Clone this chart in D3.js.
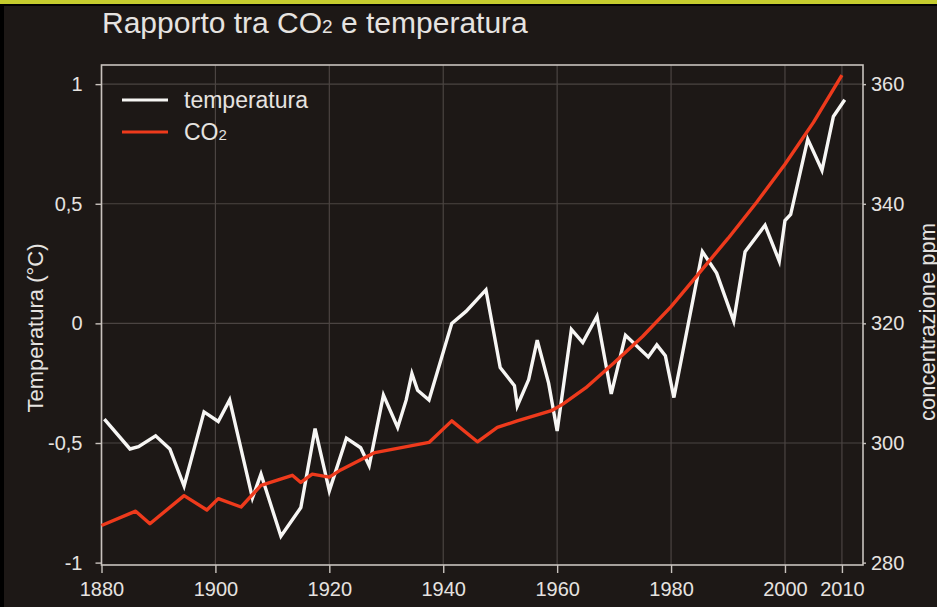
<!DOCTYPE html>
<html>
<head>
<meta charset="utf-8">
<script src="https://cdn.jsdelivr.net/npm/d3@7"></script>
<style>
  html, body { margin: 0; padding: 0; background: #000; }
  svg { display: block; font-family: "Liberation Sans", Arial, Helvetica, sans-serif; }
</style>
</head>
<body>
<svg width="937" height="607"></svg>
<script>
// temperature anomaly (white line)
const tempYears = [1880.5, 1885, 1886.5, 1889.5, 1892, 1894.5, 1898, 1900.5, 1902.5, 1906.5,
  1908, 1911.5, 1915, 1917.5, 1920, 1923, 1925.5, 1927, 1929.5, 1932,
  1933.5, 1934.5, 1935.5, 1937.5, 1941.5, 1944, 1947.5, 1950, 1952.5, 1953,
  1955, 1956.5, 1958.5, 1960, 1962.5, 1964.5, 1967, 1969.5, 1972, 1976,
  1977.5, 1979, 1980.5, 1985.5, 1988, 1991, 1993, 1996.5, 1999, 2000,
  2001, 2004, 2006.5, 2008.5, 2010.5];
const tempValues = [-0.40, -0.525, -0.515, -0.47, -0.525, -0.68, -0.37, -0.41, -0.32, -0.73,
  -0.63, -0.89, -0.77, -0.44, -0.70, -0.48, -0.52, -0.595, -0.30, -0.435,
  -0.32, -0.21, -0.28, -0.32, 0.00, 0.05, 0.14, -0.185, -0.26, -0.345,
  -0.235, -0.07, -0.25, -0.45, -0.025, -0.08, 0.03, -0.295, -0.05, -0.14,
  -0.09, -0.135, -0.31, 0.30, 0.21, 0.01, 0.30, 0.41, 0.26, 0.43,
  0.455, 0.77, 0.64, 0.865, 0.935];

// CO2 concentration ppm (red line)
const co2Years = [1880, 1886, 1888.5, 1894.5, 1898.5, 1900.5, 1904.5, 1908, 1913.5, 1915,
  1917, 1920, 1922, 1928, 1937.5, 1941.5, 1946, 1949.5, 1953, 1959,
  1961, 1965, 1970, 1975, 1980, 1985, 1990, 1995, 2000, 2005, 2010];
const co2Values = [286.2, 288.6, 286.5, 291.2, 288.8, 290.7, 289.3, 292.9, 294.6, 293.4,
  294.8, 294.3, 295.5, 298.4, 300.1, 303.7, 300.2, 302.6, 303.7, 305.4,
  306.5, 309.2, 313.4, 317.8, 322.8, 328.5, 334.2, 340.2, 346.6, 353.6, 361.5];

const yearTicks = [1880, 1900, 1920, 1940, 1960, 1980, 2000, 2010];
const tempTicks = [-1, -0.5, 0, 0.5, 1];
const tempTickLabels = ["-1", "-0,5", "0", "0,5", "1"];
const co2Ticks = [280, 300, 320, 340, 360];

const temps = tempYears.map((y, i) => ({ year: y, value: tempValues[i] }));
const co2 = co2Years.map((y, i) => ({ year: y, value: co2Values[i] }));

const svg = d3.select("svg");
const W = 937, H = 607;

// background: black edge, yellow strip on top, dark brown panel
svg.append("rect").attr("width", W).attr("height", H).attr("fill", "#000");
svg.append("rect").attr("width", W).attr("height", 4).attr("fill", "#c5cc2e");
svg.append("rect").attr("x", 4).attr("y", 6).attr("width", W - 4).attr("height", H - 6).attr("fill", "#1d1816");

const x = d3.scaleLinear().domain([1880, 2013.7]).range([101.5, 863]);
const y = d3.scaleLinear().domain([-1.01, 1.08]).range([565, 65]);
const y2 = d3.scaleLinear().domain([279.6, 363.2]).range([565, 65]);

const txt = "#e6e3e0";
const frame = "#c9c3be";
const grid = "#4b4442";

// gridlines
svg.append("g").selectAll("line").data(yearTicks).join("line")
  .attr("x1", d => x(d)).attr("x2", d => x(d))
  .attr("y1", y.range()[0]).attr("y2", y.range()[1])
  .attr("stroke", grid).attr("stroke-width", 1.2);
svg.append("g").selectAll("line").data(tempTicks.slice(1)).join("line")
  .attr("x1", x.range()[0]).attr("x2", x.range()[1])
  .attr("y1", d => y(d)).attr("y2", d => y(d))
  .attr("stroke", grid).attr("stroke-width", 1.2);

// frame
svg.append("rect")
  .attr("x", x.range()[0]).attr("y", y.range()[1])
  .attr("width", x.range()[1] - x.range()[0])
  .attr("height", y.range()[0] - y.range()[1])
  .attr("fill", "none").attr("stroke", frame).attr("stroke-width", 1.6);

// axes
const xAxis = svg.append("g")
  .attr("transform", `translate(0,${y.range()[0]})`)
  .call(d3.axisBottom(x).tickValues(yearTicks).tickFormat(d3.format("d")).tickSize(8).tickPadding(9));
const yAxis = svg.append("g")
  .attr("transform", `translate(${x.range()[0]},0)`)
  .call(d3.axisLeft(y).tickValues(tempTicks).tickFormat((d, i) => tempTickLabels[i]).tickSize(6).tickPadding(13));
const y2Axis = svg.append("g")
  .attr("transform", `translate(${x.range()[1]},0)`)
  .call(d3.axisRight(y2).tickValues(co2Ticks).tickSize(3).tickPadding(5));

[xAxis, yAxis, y2Axis].forEach(a => {
  a.select(".domain").remove();
  a.selectAll(".tick line").attr("stroke", frame).attr("stroke-width", 1.4);
  a.selectAll(".tick text").attr("fill", txt).attr("font-size", 20)
    .attr("font-family", "'Liberation Sans', Arial, sans-serif");
});

// lines
svg.append("path").datum(temps)
  .attr("fill", "none").attr("stroke", "#f7f6f4").attr("stroke-width", 3.4)
  .attr("stroke-linejoin", "miter")
  .attr("d", d3.line().x(d => x(d.year)).y(d => y(d.value)));

svg.append("path").datum(co2)
  .attr("fill", "none").attr("stroke", "#ee3a1c").attr("stroke-width", 3.4)
  .attr("stroke-linejoin", "round")
  .attr("d", d3.line().x(d => x(d.year)).y(d => y2(d.value)));

// title
const title = svg.append("text").attr("x", 102).attr("y", 33)
  .attr("fill", txt).attr("font-size", 30);
title.append("tspan").text("Rapporto tra CO");
title.append("tspan").attr("font-size", 19).text("2");
title.append("tspan").text(" e temperatura");

// legend
const legend = svg.append("g");
legend.append("line").attr("x1", 122).attr("x2", 168).attr("y1", 100).attr("y2", 100)
  .attr("stroke", "#f7f6f4").attr("stroke-width", 3.2);
legend.append("text").attr("x", 184).attr("y", 100).attr("dy", "0.35em")
  .attr("fill", txt).attr("font-size", 23).text("temperatura");
legend.append("line").attr("x1", 122).attr("x2", 168).attr("y1", 132).attr("y2", 132)
  .attr("stroke", "#ee3a1c").attr("stroke-width", 3.2);
const co2Label = legend.append("text").attr("x", 184).attr("y", 132).attr("dy", "0.35em")
  .attr("fill", txt).attr("font-size", 23);
co2Label.append("tspan").text("CO");
co2Label.append("tspan").attr("font-size", 15).text("2");

// axis titles
svg.append("text")
  .attr("transform", "translate(43,328) rotate(-90)")
  .attr("text-anchor", "middle").attr("fill", txt).attr("font-size", 22)
  .text("Temperatura (°C)");
svg.append("text")
  .attr("transform", "translate(935,322) rotate(-90)")
  .attr("text-anchor", "middle").attr("fill", txt).attr("font-size", 22)
  .text("concentrazione ppm");
</script>
</body>
</html>
